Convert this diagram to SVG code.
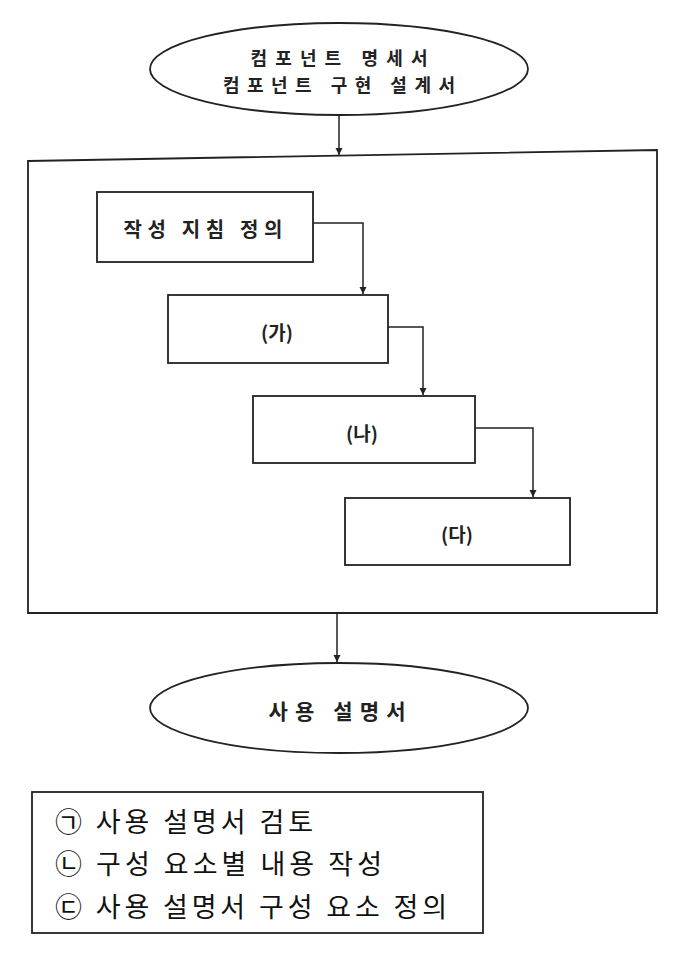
<svg xmlns="http://www.w3.org/2000/svg" width="680" height="958" viewBox="0 0 680 958">
<defs>
<marker id="ah" markerWidth="8" markerHeight="8" refX="7" refY="4" orient="auto" markerUnits="userSpaceOnUse">
<path d="M0,0.5 L7,4 L0,7.5 Z" fill="#222"/>
</marker>
<style>
.shape{fill:#fff;stroke:#222;stroke-width:1.8}
.conn{fill:none;stroke:#222;stroke-width:1.5;marker-end:url(#ah)}
.lbl{font-family:"Noto Sans CJK KR","Noto Sans",sans-serif;font-weight:bold;fill:#222;text-anchor:middle;dominant-baseline:central}
.leg{font-family:"Noto Sans CJK KR","Noto Sans",sans-serif;font-weight:normal;fill:#111;dominant-baseline:central}
</style>
</defs>
<rect width="680" height="958" fill="#fff"/>
<g id="container">
<path class="shape" d="M28,161 L657,150 L657,613 L28,613 Z"/>
</g>
<g id="start">
<ellipse class="shape" cx="339" cy="69" rx="189" ry="46"/>
<text class="lbl" x="339" y="57" font-size="18" textLength="177" lengthAdjust="spacing">컴포넌트 명세서</text>
<text class="lbl" x="339" y="84" font-size="18" textLength="232" lengthAdjust="spacing">컴포넌트 구현 설계서</text>
</g>
<g id="step1">
<rect class="shape" x="97" y="192" width="216" height="70"/>
<text class="lbl" x="203" y="228" font-size="20" textLength="159" lengthAdjust="spacing">작성 지침 정의</text>
</g>
<g id="step2">
<rect class="shape" x="168" y="295" width="220" height="68"/>
<text class="lbl" x="277" y="331" font-size="19">(가)</text>
</g>
<g id="step3">
<rect class="shape" x="253" y="396" width="222" height="67"/>
<text class="lbl" x="362" y="432" font-size="19">(나)</text>
</g>
<g id="step4">
<rect class="shape" x="345" y="498" width="225" height="67"/>
<text class="lbl" x="457" y="533" font-size="19">(다)</text>
</g>
<g id="end">
<ellipse class="shape" cx="339" cy="708" rx="189" ry="45"/>
<text class="lbl" x="337" y="710" font-size="21" textLength="137" lengthAdjust="spacing">사용 설명서</text>
</g>
<g id="connectors">
<path class="conn" d="M339,115 L339,155"/>
<path class="conn" d="M313,223 L363,223 L363,294"/>
<path class="conn" d="M388,327 L423,327 L423,395"/>
<path class="conn" d="M475,428 L533,428 L533,497"/>
<path class="conn" d="M337,613 L337,662"/>
</g>
<g id="legend">
<rect x="32" y="792" width="451" height="141" fill="#fff" stroke="#222" stroke-width="1.8"/>
<text class="leg" x="55" y="820" font-size="27" textLength="258" lengthAdjust="spacing">㉠ 사용 설명서 검토</text>
<text class="leg" x="55" y="862" font-size="27" textLength="327" lengthAdjust="spacing">㉡ 구성 요소별 내용 작성</text>
<text class="leg" x="55" y="905" font-size="27" textLength="392" lengthAdjust="spacing">㉢ 사용 설명서 구성 요소 정의</text>
</g>
</svg>
